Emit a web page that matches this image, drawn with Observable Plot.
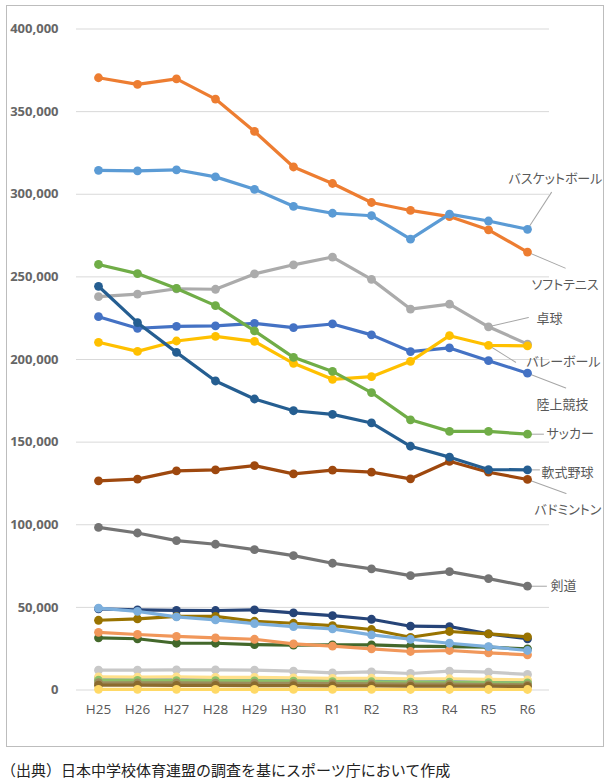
<!DOCTYPE html>
<html>
<head>
<meta charset="utf-8">
<script src="https://cdn.jsdelivr.net/npm/d3@7"></script>
<script src="https://cdn.jsdelivr.net/npm/@observablehq/plot@0.6"></script>
<style>
  html, body { margin: 0; padding: 0; background: #fff; }
  #wrap { position: relative; width: 611px; height: 752px; }
  #border { position: absolute; left: 6px; top: 5px; width: 598px; height: 742px; border: 1.5px solid #bdbdbd; box-sizing: border-box; pointer-events: none; }
  #chart svg text { font-feature-settings: "palt"; }
  #caption { font-family: "Noto Sans CJK JP", sans-serif; font-size: 15px; color: #222; padding-top: 8px; line-height: 20px; margin-left: 1px; white-space: nowrap; }
</style>
</head>
<body>
<div id="wrap"><div id="chart"></div><div id="border"></div></div>
<div id="caption">（出典）日本中学校体育連盟の調査を基にスポーツ庁において作成</div>
<script>
// ---- data ----
const years = ["H25","H26","H27","H28","H29","H30","R1","R2","R3","R4","R5","R6"];
const yTicks = [0, 50000, 100000, 150000, 200000, 250000, 300000, 350000, 400000];

const athletics    = [225900, 218900, 220100, 220300, 221900, 219300, 221500, 214900, 204800, 207000, 199300, 191700];
const softTennis   = [370500, 366500, 369800, 357600, 338000, 316500, 306500, 295000, 290200, 286500, 278500, 265000];
const tableTennis  = [238000, 239600, 242800, 242500, 251800, 257300, 262000, 248500, 230500, 233500, 219800, 209300];
const volleyball   = [210400, 204900, 211200, 214000, 211000, 197700, 188000, 189600, 198900, 214400, 208600, 208200];
const basketball   = [314500, 314200, 314800, 310500, 303000, 292700, 288500, 287000, 272800, 288000, 283800, 278800];
const soccer       = [257500, 252000, 243000, 232600, 217300, 201300, 192800, 180000, 163500, 156500, 156500, 154800];
const otherNavy    = [49100, 48500, 48200, 48100, 48500, 46700, 45000, 42800, 38600, 38400, 34000, 31000];
const badminton    = [126600, 127600, 132600, 133200, 135800, 130800, 133000, 131800, 127800, 138400, 131800, 127400];
const kendo        = [98400, 95000, 90400, 88200, 84900, 81300, 76700, 73300, 69200, 71600, 67400, 62800];
const otherOlive   = [42200, 43000, 44600, 44600, 41600, 40400, 39000, 36600, 31900, 35400, 34000, 32200];
const softBaseball = [244300, 222300, 204300, 187000, 176100, 169000, 166800, 161600, 147500, 140900, 133400, 133200];
const otherGreen   = [31600, 31000, 28300, 28300, 27500, 27100, 27300, 27300, 26500, 26300, 25900, 24900];
const otherBlue    = [7200, 7100, 7000, 6900, 6800, 6600, 6300, 6200, 5900, 5900, 5600, 5300];
const otherSalmon  = [34900, 33600, 32500, 31600, 30700, 27900, 26500, 24900, 23300, 23900, 22500, 21300];
const otherGrey    = [12000, 12000, 12200, 12200, 12000, 11400, 10400, 11000, 10000, 11400, 10800, 9400];
const otherGold    = [7900, 7800, 7900, 7700, 7600, 7300, 7000, 7100, 6700, 6800, 6400, 6100];
const otherSky     = [49500, 47600, 44300, 42400, 40200, 38400, 37000, 33400, 30700, 28300, 26300, 23900];
const otherLime    = [5900, 5800, 5700, 5700, 5500, 5400, 5100, 5000, 4800, 4700, 4500, 4300];
const otherKhaki   = [4400, 4300, 4300, 4200, 4100, 4000, 3800, 3700, 3500, 3500, 3300, 3100];
const otherBrown   = [2900, 2900, 2800, 2800, 2700, 2600, 2500, 2500, 2400, 2400, 2300, 2200];
const otherYellow  = [400, 400, 400, 400, 400, 350, 350, 350, 300, 300, 300, 300];

const seriesNames = ["陸上競技","ソフトテニス","卓球","バレーボール","バスケットボール","サッカー","その他1","バドミントン","剣道","その他2","軟式野球","その他3","その他4","その他5","その他6","その他7","その他8","その他9","その他10","その他11","その他12"];
const seriesValues = [athletics, softTennis, tableTennis, volleyball, basketball, soccer, otherNavy, badminton, kendo, otherOlive, softBaseball, otherGreen, otherBlue, otherSalmon, otherGrey, otherGold, otherSky, otherLime, otherKhaki, otherBrown, otherYellow];
const seriesColors = ["#4472C4","#ED7D31","#ABABAB","#FFC000","#5B9BD5","#70AD47","#264478","#9E480E","#747474","#997300","#255E91","#43682B","#698ED0","#F1975A","#C8C8C8","#FFE08A","#7CAFDD","#8CC168","#9C8C5C","#8B6B2E","#FFD966"];

// label placement (pixel offsets from the anchored data point)
const labelNames = ["バスケットボール","ソフトテニス","卓球","バレーボール","陸上競技","サッカー","軟式野球","バドミントン","剣道"];
const labelAt    = [11, 11, 10, 10, 11, 11, 11, 11, 11];
const labelDx    = [-19, 4, 48, 38, 9, 19, 14, 7, 23];
const labelDy    = [-50, 33, -8, 17, 32, 0, 3, 30, 0];
const leaderLen  = [44, 41, 41, 32, 41, 16, 12, 41, 19];
const leaderRot  = [33, 113, 77, 122, 111, 90, 90, 110, 90];

// ---- build ----
const series = seriesNames.map((name, k) => ({
  name, color: seriesColors[k],
  rows: seriesValues[k].map((v, i) => ({name, year: years[i], value: v}))
}));

const leaderShape = { draw(context, l) { context.moveTo(0, 0); context.lineTo(0, -l); } };

const marks = [
  Plot.gridY(yTicks, {stroke: "#d9d9d9", strokeOpacity: 1, strokeWidth: 1}),
  Plot.axisY(yTicks, {tickSize: 0, tickPadding: 18, tickFormat: d3.format(","), fontSize: 13, fontWeight: "bold", fontFamily: "Open Sans, sans-serif", fill: "#666666"}),
  Plot.axisX({tickSize: 0, tickPadding: 14, fontSize: 13.5, fontFamily: "Open Sans, sans-serif", fill: "#595959"})
];

labelNames.forEach((name, j) => {
  const k = seriesNames.indexOf(name);
  const i = labelAt[j];
  const pt = [{year: years[i], value: seriesValues[k][i], name}];
  marks.push(Plot.vector(pt, {x: "year", y: "value", length: leaderLen[j], rotate: leaderRot[j], anchor: "start", shape: leaderShape, stroke: "#a6a6a6", strokeWidth: 1}));
  marks.push(Plot.text(pt, {x: "year", y: "value", text: "name", dx: labelDx[j], dy: labelDy[j], textAnchor: "start", fontSize: 13, fontFamily: "Noto Sans CJK JP, sans-serif", fill: "#595959"}));
});

series.forEach(s => {
  marks.push(Plot.line(s.rows, {x: "year", y: "value", stroke: s.color, strokeWidth: 3.2, strokeLinejoin: "round", strokeLinecap: "round"}));
  marks.push(Plot.dot(s.rows, {x: "year", y: "value", r: 4.4, fill: s.color, stroke: "none"}));
});

const chart = Plot.plot({
  width: 611,
  height: 752,
  marginLeft: 76,
  marginRight: 62,
  marginTop: 28.5,
  marginBottom: 62.5,
  x: {type: "point", domain: years, padding: 0.5, label: null},
  y: {domain: [0, 400000], label: null},
  style: {background: "transparent", color: "#595959", fontFamily: "Open Sans, sans-serif"},
  marks
});
document.getElementById("chart").appendChild(chart);
</script>
</body>
</html>
